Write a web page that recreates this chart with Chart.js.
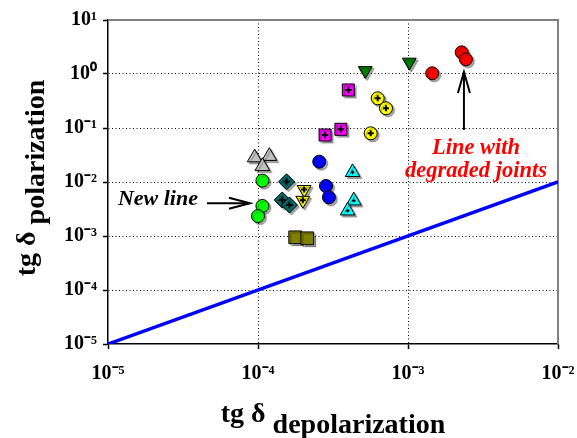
<!DOCTYPE html>
<html><head><meta charset="utf-8">
<script src="https://cdn.jsdelivr.net/npm/chart.js@4.4.1/dist/chart.umd.min.js"></script>
<style>html,body{margin:0;padding:0;background:#fff}canvas{display:block}</style>
</head><body>
<canvas id="c" width="577" height="438" style="width:577px;height:438px"></canvas>
<script>
// ---- axis ticks / titles ----
const xTickValues = [1e-5, 1e-4, 1e-3, 1e-2];
const yTickValues = [1e-5, 1e-4, 1e-3, 1e-2, 1e-1, 1e0, 1e1];
const xTitleMain = 'tg δ ', xTitleSub = 'depolarization';
const yTitleMain = 'tg δ ', yTitleSub = 'polarization';

// ---- series (tg δ depolarization, tg δ polarization) ----
const grayTriX = [9.5e-5, 1.19e-4, 1.07e-4];
const grayTriY = [0.0283, 0.0301, 0.0195];
const greenCircX = [1.07e-4, 1.07e-4, 1.0e-4];
const greenCircY = [0.0106, 0.0036, 0.00234];
const tealDiaX = [1.55e-4, 1.45e-4, 1.62e-4];
const tealDiaY = [0.0101, 0.00465, 0.00375];
const yellowTriX = [2.03e-4, 1.99e-4];
const yellowTriY = [0.00726, 0.00458];
const blueCircX = [2.56e-4, 2.84e-4, 2.97e-4];
const blueCircY = [0.0238, 0.00843, 0.00521];
const cyanTriX = [4.27e-4, 4.35e-4, 3.96e-4];
const cyanTriY = [0.0151, 0.00451, 0.00294];
const oliveSqX = [1.77e-4, 2.13e-4];
const oliveSqY = [9.46e-4, 9.06e-4];
const magentaSqX = [4.0e-4, 3.57e-4, 2.80e-4];
const magentaSqY = [0.506, 0.0946, 0.0741];
const yellowCircX = [6.28e-4, 7.13e-4, 5.64e-4];
const yellowCircY = [0.355, 0.232, 0.0798];
const greenTriX = [5.19e-4, 1.02e-3];
const greenTriY = [1.156, 1.656];
const redCircX = [1.45e-3, 2.28e-3, 2.43e-3];
const redCircY = [1.03, 2.52, 1.87];
const refLineX = [1e-5, 1e-2];
const refLineY = [1e-5, 1e-2];

// ---- annotations (data coordinates) ----
const newLineLabel = 'New line';
const newLineLabelAt = [3.98e-5, 3.75e-3];
const newLineArrowX = [4.57e-5, 8.84e-5];
const newLineArrowY = 4.04e-3;
const degradedLabel = ['Line with', 'degraded joints'];
const degradedLabelX = 2.84e-3;
const degradedLabelY = [0.033, 0.0126];
const degradedArrowX = 2.36e-3;
const degradedArrowY = [0.0918, 1.089];

const SERIF = "'Liberation Serif','Times New Roman',Times,serif";
const SUP = {'-':'\u207B','0':'\u2070','1':'\u00B9','2':'\u00B2','3':'\u00B3','4':'\u2074','5':'\u2075'};
const decadeLabel = v => '10' + String(Math.round(Math.log10(v))).split('').map(ch => SUP[ch]).join('');

const pts = (xs, ys) => xs.map((x, i) => ({x, y: ys[i]}));
function marker(xs, ys, style, color, r, rot) {
  return {data: pts(xs, ys), pointStyle: style, pointRadius: r, pointHoverRadius: r,
    pointRotation: rot || 0, backgroundColor: color, borderColor: '#000', borderWidth: 1, shadow: true};
}
function plus(xs, ys, r, w) {
  return {data: pts(xs, ys), pointStyle: 'cross', pointRadius: r, pointHoverRadius: r,
    borderColor: '#000', backgroundColor: '#000', borderWidth: w};
}

const shadowPlugin = {
  id: 'shadow',
  beforeDatasetDraw(chart, args) {
    if (chart.data.datasets[args.index].shadow) {
      const c = chart.ctx; c.save();
      c.shadowColor = 'rgba(0,0,0,0.35)'; c.shadowOffsetX = 2; c.shadowOffsetY = 2; c.shadowBlur = 1;
    }
  },
  afterDatasetDraw(chart, args) {
    if (chart.data.datasets[args.index].shadow) chart.ctx.restore();
  }
};

const framePlugin = {
  id: 'frame',
  beforeDatasetsDraw(chart) {
    const {ctx, chartArea: a} = chart;
    ctx.save();
    ctx.strokeStyle = '#808080'; ctx.lineWidth = 2;
    ctx.beginPath();
    ctx.moveTo(a.left, a.top); ctx.lineTo(a.right, a.top); ctx.lineTo(a.right, a.bottom);
    ctx.stroke();
    ctx.restore();
  }
};

function arrowHead(ctx, x, y, dx, dy, len, half) {
  const n = Math.hypot(dx, dy), ux = dx / n, uy = dy / n;
  ctx.beginPath();
  ctx.moveTo(x - ux * len - uy * half, y - uy * len + ux * half);
  ctx.lineTo(x, y);
  ctx.lineTo(x - ux * len + uy * half, y - uy * len - ux * half);
  ctx.stroke();
}

const annotPlugin = {
  id: 'annot',
  afterDraw(chart) {
    const {ctx, chartArea: a} = chart;
    const sx = chart.scales.x, sy = chart.scales.y;
    const px = v => sx.getPixelForValue(v), py = v => sy.getPixelForValue(v);
    ctx.save();
    // New line
    ctx.font = 'italic bold 22px ' + SERIF;
    ctx.fillStyle = '#000'; ctx.textAlign = 'right'; ctx.textBaseline = 'alphabetic';
    ctx.fillText(newLineLabel, px(newLineLabelAt[0]), py(newLineLabelAt[1]));
    ctx.strokeStyle = '#000'; ctx.lineWidth = 2;
    const ay = py(newLineArrowY), ax0 = px(newLineArrowX[0]), ax1 = px(newLineArrowX[1]);
    ctx.beginPath(); ctx.moveTo(ax0, ay); ctx.lineTo(ax1, ay); ctx.stroke();
    arrowHead(ctx, ax1, ay, 1, 0, 21, 5.5);
    // degraded joints
    ctx.font = 'italic bold 22.5px ' + SERIF;
    ctx.fillStyle = '#ff0000'; ctx.textAlign = 'center';
    degradedLabel.forEach((t, i) => ctx.fillText(t, px(degradedLabelX), py(degradedLabelY[i])));
    const bx = px(degradedArrowX), by0 = py(degradedArrowY[0]), by1 = py(degradedArrowY[1]);
    ctx.beginPath(); ctx.moveTo(bx, by0); ctx.lineTo(bx, by1); ctx.stroke();
    arrowHead(ctx, bx, by1, 0, -1, 21, 6);

    // axis titles
    ctx.fillStyle = '#000'; ctx.textAlign = 'left'; ctx.textBaseline = 'alphabetic';
    ctx.font = 'bold 28px ' + SERIF;
    const w1 = ctx.measureText(xTitleMain).width, w2 = ctx.measureText(xTitleSub).width;
    const cx = (a.left + a.right) / 2;
    const x0 = cx - (w1 + w2) / 2;
    ctx.fillText(xTitleMain, x0, a.bottom + 78);
    ctx.fillText(xTitleSub, x0 + w1, a.bottom + 89);
    const v1 = ctx.measureText(yTitleMain).width, v2 = ctx.measureText(yTitleSub).width;
    const cy = (a.top + a.bottom) / 2 - 4;
    ctx.translate(35, cy);
    ctx.rotate(-Math.PI / 2);
    const y0 = -(v1 + v2) / 2;
    ctx.fillText(yTitleMain, y0, 0);
    ctx.fillText(yTitleSub, y0 + v1, 9);
    ctx.restore();
  }
};

const gridColor = c => (c.type === 'tick' && (c.index === 0 || c.index === c.scale.ticks.length - 1)) ? 'rgba(0,0,0,0)' : '#000';

// paint order: first entry drawn first (bottom)
const paintOrder = [
  {data: pts(refLineX, refLineY), showLine: true, borderColor: '#0000ff', borderWidth: 3.5,
    pointRadius: 0, pointHoverRadius: 0, fill: false},
  marker(grayTriX, grayTriY, 'triangle', '#c0c0c0', 8.5),
  marker(greenCircX, greenCircY, 'circle', '#00ff00', 6.5),
  marker(tealDiaX, tealDiaY, 'rectRot', '#006a6a', 8),
  plus(tealDiaX, tealDiaY, 3.5, 2),
  marker(yellowTriX, yellowTriY, 'triangle', '#ffff00', 8, 180),
  plus(yellowTriX, yellowTriY, 3, 2),
  marker(blueCircX, blueCircY, 'circle', '#0000ff', 6.5),
  marker(cyanTriX, cyanTriY, 'triangle', '#00ffff', 8.5),
  plus(cyanTriX, cyanTriY, 1.8, 1.5),
  marker(oliveSqX, oliveSqY, 'rect', '#808000', 9),
  marker(magentaSqX, magentaSqY, 'rect', '#ff00ff', 8.5),
  plus(magentaSqX, magentaSqY, 3.2, 2),
  marker(yellowCircX, yellowCircY, 'circle', '#ffff00', 6.5),
  plus(yellowCircX, yellowCircY, 3, 2),
  marker(greenTriX, greenTriY, 'triangle', '#008000', 8, 180),
  marker(redCircX, redCircY, 'circle', '#ff0000', 6.5)
];

new Chart(document.getElementById('c'), {
  type: 'scatter',
  data: {datasets: paintOrder.slice().reverse()},
  options: {
    responsive: false,
    animation: false,
    devicePixelRatio: 1,
    layout: {padding: {top: 20, right: 19, left: 0, bottom: 0}},
    plugins: {legend: {display: false}, tooltip: {enabled: false}},
    events: [],
    scales: {
      x: {
        type: 'logarithmic', position: 'bottom', min: 1e-5, max: 1e-2,
        afterBuildTicks: s => { s.ticks = xTickValues.map(v => ({value: v})); },
        afterFit: s => { s.height = 94; s.paddingLeft = 0; s.paddingRight = 0; },
        ticks: {callback: v => decadeLabel(v), color: '#000', font: {family: SERIF, size: 20, weight: 'bold'},
          maxRotation: 0, autoSkip: false, padding: 13},
        grid: {color: gridColor, lineWidth: 1, tickLength: 5, tickColor: '#000', tickWidth: 1.5},
        border: {color: '#000', width: 1.5, dash: [1, 2.5]}
      },
      y: {
        type: 'logarithmic', position: 'left', min: 1e-5, max: 1e1,
        afterBuildTicks: s => { s.ticks = yTickValues.map(v => ({value: v})); },
        afterFit: s => { s.width = 108; s.paddingTop = 0; s.paddingBottom = 0; },
        ticks: {callback: v => decadeLabel(v), color: '#000', font: {family: SERIF, size: 20, weight: 'bold'},
          autoSkip: false, padding: 6},
        grid: {color: gridColor, lineWidth: 1, tickLength: 5, tickColor: '#000', tickWidth: 1.5},
        border: {color: '#000', width: 1.5, dash: [1, 2.5]}
      }
    }
  },
  plugins: [shadowPlugin, framePlugin, annotPlugin]
});
</script>
</body></html>
